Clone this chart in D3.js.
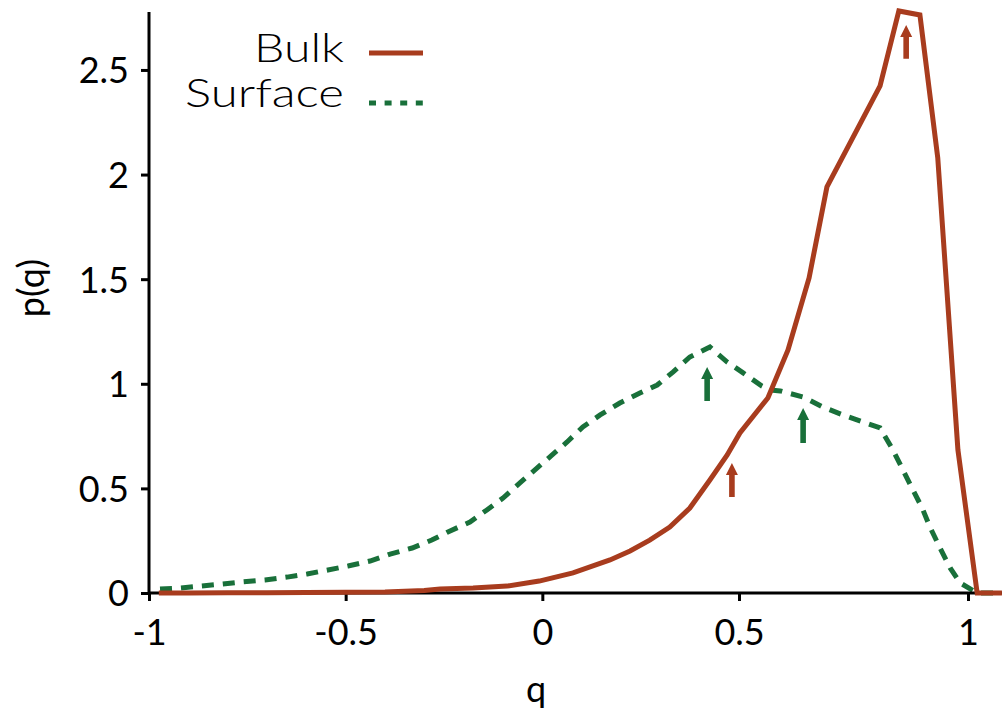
<!DOCTYPE html>
<html><head><meta charset="utf-8">
<script src="https://cdn.jsdelivr.net/npm/d3@7"></script>
<style>body{margin:0;background:#fff} text{font-family:Lato, "DejaVu Sans", sans-serif}</style>
</head><body><svg id="c" width="1002" height="709"></svg>
<script>
const xTicks = [-1, -0.5, 0, 0.5, 1];
const xTickLabels = ["-1", "-0.5", "0", "0.5", "1"];
const yTicks = [0, 0.5, 1, 1.5, 2, 2.5];
const yTickLabels = ["0", "0.5", "1", "1.5", "2", "2.5"];

const bulkQ = [-0.975, -0.9, -0.8, -0.7, -0.6, -0.5, -0.4, -0.3, -0.260, -0.176, -0.090, -0.008, 0.078, 0.172, 0.223, 0.273, 0.324, 0.375, 0.426, 0.470, 0.502, 0.563, 0.607, 0.653, 0.692, 0.808, 0.849, 0.895, 0.934, 0.978, 1.020, 1.074];
const bulkP = [0, 0.0005, 0.001, 0.001, 0.002, 0.003, 0.005, 0.012, 0.019, 0.024, 0.033, 0.057, 0.096, 0.158, 0.201, 0.253, 0.315, 0.406, 0.540, 0.660, 0.765, 0.932, 1.162, 1.506, 1.941, 2.424, 2.782, 2.763, 2.079, 0.684, 0, 0];

const surfQ = [-0.972, -0.921, -0.870, -0.814, -0.761, -0.705, -0.649, -0.598, -0.545, -0.494, -0.438, -0.387, -0.331, -0.281, -0.240, -0.184, -0.141, -0.100, -0.057, -0.013, 0.025, 0.063, 0.103, 0.147, 0.197, 0.248, 0.292, 0.332, 0.375, 0.426, 0.470, 0.509, 0.550, 0.568, 0.590, 0.640, 0.683, 0.727, 0.771, 0.808, 0.836, 0.858, 0.880, 0.900, 0.917, 0.939, 0.961, 0.983, 1.020, 1.074];
const surfP = [0.019, 0.024, 0.033, 0.043, 0.053, 0.062, 0.076, 0.091, 0.110, 0.129, 0.153, 0.186, 0.215, 0.253, 0.292, 0.339, 0.397, 0.454, 0.526, 0.598, 0.660, 0.722, 0.794, 0.851, 0.908, 0.956, 0.994, 1.056, 1.128, 1.176, 1.104, 1.052, 0.989, 0.970, 0.966, 0.937, 0.889, 0.851, 0.817, 0.789, 0.684, 0.588, 0.492, 0.406, 0.315, 0.215, 0.120, 0.048, 0, 0];

const arrowSeries = ["Bulk", "Bulk", "Surface", "Surface"];
const arrowQ = [0.482, 0.865, 0.419, 0.640];
const arrowTip = [0.621, 2.715, 1.080, 0.884];
const arrowBase = [0.459, 2.553, 0.918, 0.717];

const seriesNames = ["Bulk", "Surface"];
const colors = {Bulk: "#a83c1e", Surface: "#19703a"};

const svg = d3.select("#c");
const x = d3.scaleLinear().domain([-1, 0.5, 1, 1.0742]).range([149, 739, 968, 1002]);
const y = d3.scaleLinear().domain([0, 2.777]).range([593, 12]);

// axes
const xAxis = d3.axisBottom(x).tickValues(xTicks).tickFormat((d, i) => xTickLabels[i]).tickSize(8).tickSizeOuter(0).tickPadding(18);
const yAxis = d3.axisLeft(y).tickValues(yTicks).tickFormat((d, i) => yTickLabels[i]).tickSize(8).tickSizeOuter(0).tickPadding(12);

const gx = svg.append("g").attr("transform", "translate(0,593)").call(xAxis);
const gy = svg.append("g").attr("transform", "translate(149,0)").call(yAxis);
[gx, gy].forEach(g => {
  g.select(".domain").remove();
  g.selectAll(".tick line").attr("stroke", "#000").attr("stroke-width", 3);
  g.selectAll(".tick text").attr("font-size", 36).attr("fill", "#000").style("font-family", "Lato");
});
gy.selectAll(".tick text").attr("dy", "0.36em");

// axis lines
svg.append("line").attr("x1", 149).attr("x2", 149).attr("y1", y(2.777)).attr("y2", 594.5).attr("stroke", "#000").attr("stroke-width", 3);

// lines
const line = d3.line().x(d => x(d[0])).y(d => y(d[1]));
const surfData = surfQ.map((q, i) => [q, surfP[i]]);
const bulkData = bulkQ.map((q, i) => [q, bulkP[i]]);

svg.append("path").datum(surfData).attr("d", line).attr("fill", "none")
  .attr("stroke", colors.Surface).attr("stroke-width", 5).attr("stroke-dasharray", "12,9");

svg.append("line").attr("x1", 149).attr("x2", 1002).attr("y1", 593).attr("y2", 593).attr("stroke", "#000").attr("stroke-width", 3);

svg.append("path").datum(bulkData).attr("d", line).attr("fill", "none")
  .attr("stroke", colors.Bulk).attr("stroke-width", 5).attr("stroke-linejoin", "miter");

// arrows
arrowQ.forEach((q, i) => {
  const px = x(q), yt = y(arrowTip[i]), yb = y(arrowBase[i]);
  const sw = 2.8, hw = 6, hl = 12;
  const p = `M${px - sw},${yb} L${px - sw},${yt + hl} L${px - hw},${yt + hl} L${px},${yt} L${px + hw},${yt + hl} L${px + sw},${yt + hl} L${px + sw},${yb} Z`;
  svg.append("path").attr("d", p).attr("fill", colors[arrowSeries[i]]);
});

// legend
const leg = svg.append("g");
seriesNames.forEach((s, i) => {
  const by = [62, 107][i], ly = [53, 103][i], tl = [90, 159][i];
  leg.append("text").attr("x", 344).attr("y", by).attr("text-anchor", "end")
    .attr("font-size", 39).attr("font-weight", 300).attr("fill", "#000")
    .attr("textLength", tl).attr("lengthAdjust", "spacingAndGlyphs").text(s);
  leg.append("line").attr("x1", 369).attr("x2", 423).attr("y1", ly).attr("y2", ly)
    .attr("stroke", colors[s]).attr("stroke-width", 5)
    .attr("stroke-dasharray", s === "Surface" ? "7,8.6" : null);
});

// axis titles
svg.append("text").attr("x", 536).attr("y", 702).attr("text-anchor", "middle")
  .attr("font-size", 36).attr("fill", "#000").text("q");
svg.append("text").attr("transform", "translate(44,288) rotate(-90)").attr("text-anchor", "middle")
  .attr("font-size", 36).attr("fill", "#000").text("p(q)");
</script>
</body></html>
